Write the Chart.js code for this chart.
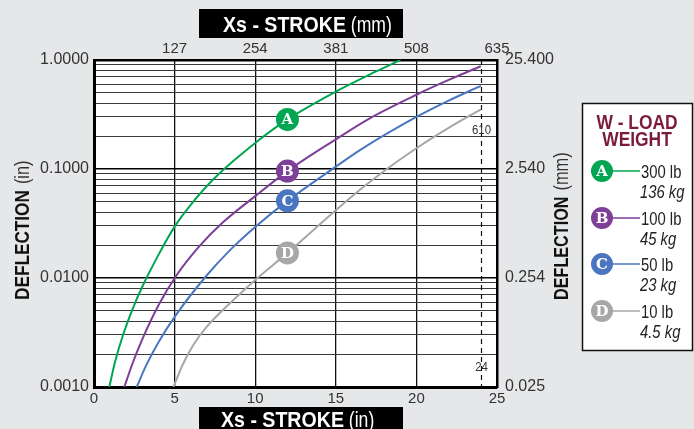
<!DOCTYPE html>
<html>
<head>
<meta charset="utf-8">
<script src="https://cdn.jsdelivr.net/npm/chart.js@4.4.1/dist/chart.umd.min.js"></script>
<style>
  html, body { margin: 0; padding: 0; background: #e6e7e9; }
  canvas { display: block; }
</style>
</head>
<body>
<canvas id="c" width="694" height="429"></canvas>
<script>
// ---------- data ----------
const seriesLetters = ['A', 'B', 'C', 'D'];
const loadLb = ['300 lb', '100 lb', '50 lb', '10 lb'];
const loadKg = ['136 kg', '45 kg', '23 kg', '4.5 kg'];
const seriesColors = ['#00a651', '#7d3f98', '#4a76c1', '#a7a7a7'];

// stroke (in) and deflection (in)
const xA = [0.95, 1.3, 1.8, 2.4, 3.0, 4.0, 5.0, 6.0, 7.5, 10, 12, 15, 17.5, 19];
const yA = [0.001, 0.00169, 0.0030, 0.00522, 0.00835, 0.0163, 0.0296, 0.0469, 0.083, 0.173, 0.285, 0.513, 0.785, 1.0];

const xB = [1.88, 2.4, 3.0, 4.0, 5.1, 6.5, 8, 10, 12, 15, 17, 20, 22, 24];
const yB = [0.001, 0.00166, 0.00275, 0.00562, 0.0105, 0.0193, 0.0324, 0.0564, 0.0957, 0.187, 0.286, 0.48, 0.656, 0.877];

const xC = [2.65, 3.2, 4.0, 5.1, 7.0, 8.5, 10, 12, 15, 16.5, 20, 22, 24];
const yC = [0.001, 0.00154, 0.00258, 0.00461, 0.0106, 0.0184, 0.0294, 0.051, 0.105, 0.149, 0.30, 0.424, 0.579];

const xD = [4.93, 5.5, 6.2, 7.0, 8.5, 10, 12, 15, 16.5, 18, 20, 22, 24];
const yD = [0.001, 0.0016, 0.00248, 0.00358, 0.0060, 0.0096, 0.017, 0.0418, 0.0644, 0.0958, 0.155, 0.2385, 0.353];

const markerX = 12;
const markerY = [0.285, 0.0957, 0.051, 0.017];

const xTicksIn = [0, 5, 10, 15, 20, 25];
const xLabelsIn = ['0', '5', '10', '15', '20', '25'];
const xTicksMm = [5, 10, 15, 20, 25];
const xLabelsMm = ['127', '254', '381', '508', '635'];

const yDecades = [0.001, 0.01, 0.1, 1];
const yLabelsIn = ['0.0010', '0.0100', '0.1000', '1.0000'];
const yLabelsMm = ['0.025', '0.254', '2.540', '25.400'];
const yMinorMult = [2, 3, 4, 5, 6, 7, 8, 9];

const limitX = 24;
const limitLabelMm = '610';
const limitLabelIn = '24';

// ---------- helpers ----------
const pts = (xs, ys) => xs.map((x, i) => ({ x: x, y: ys[i] }));
const allYTicks = [];
yDecades.forEach((d, i) => {
  allYTicks.push(d);
  if (i < yDecades.length - 1) yMinorMult.forEach(m => allYTicks.push(+(d * m).toPrecision(3)));
});
const isDecade = v => yDecades.some(d => Math.abs(d - v) < 1e-9);
const SANS = '"Liberation Sans", Arial, sans-serif';

function cText(ctx, str, x, y, font, sx, align) {
  ctx.save();
  ctx.font = font;
  const w = ctx.measureText(str).width * sx;
  let x0 = x;
  if (align === 'center') x0 = x - w / 2;
  else if (align === 'right') x0 = x - w;
  ctx.translate(x0, y);
  ctx.scale(sx, 1);
  ctx.textAlign = 'left';
  ctx.fillText(str, 0, 0);
  ctx.restore();
  return w;
}
function cWidth(ctx, str, font, sx) {
  ctx.save(); ctx.font = font; const w = ctx.measureText(str).width * sx; ctx.restore(); return w;
}

const bgPlugin = {
  id: 'bg',
  beforeDraw(chart) {
    const { ctx, chartArea: a } = chart;
    ctx.save();
    ctx.fillStyle = '#e6e7e9';
    ctx.fillRect(0, 0, chart.width, chart.height);
    ctx.fillStyle = '#ffffff';
    ctx.fillRect(a.left, a.top, a.right - a.left, a.bottom - a.top);
    ctx.restore();
  }
};

const overlayPlugin = {
  id: 'overlay',
  afterDatasetsDraw(chart) {
    const { ctx, chartArea: a } = chart;
    const xs = chart.scales.x, ys = chart.scales.y;
    ctx.save();
    const lx = Math.round(xs.getPixelForValue(limitX)) + 0.5;
    ctx.strokeStyle = '#111';
    ctx.lineWidth = 1.2;
    ctx.setLineDash([5, 4]);
    ctx.beginPath();
    ctx.moveTo(lx, a.top);
    ctx.lineTo(lx, a.bottom);
    ctx.stroke();
    ctx.setLineDash([]);
    ctx.fillStyle = '#333';
    ctx.textBaseline = 'middle';
    cText(ctx, limitLabelMm, lx, 130, '13px ' + SANS, 0.88, 'center');
    cText(ctx, limitLabelIn, lx, 367, '13px ' + SANS, 0.88, 'center');

    markerY.forEach((v, i) => {
      const px = xs.getPixelForValue(markerX);
      const py = ys.getPixelForValue(v);
      ctx.beginPath();
      ctx.arc(px, py, 11.5, 0, Math.PI * 2);
      ctx.fillStyle = seriesColors[i];
      ctx.fill();
      ctx.fillStyle = '#fff';
      ctx.font = 'bold 15px "DejaVu Serif", "Liberation Serif", serif';
      ctx.textAlign = 'center';
      ctx.textBaseline = 'middle';
      ctx.fillText(seriesLetters[i], px, py + 1);
    });
    ctx.restore();
  },
  afterDraw(chart) {
    const { ctx } = chart;
    ctx.save();
    ctx.textBaseline = 'alphabetic';
    ctx.fillStyle = '#000';
    ctx.fillRect(199, 9, 204, 29);
    ctx.fillRect(199, 407, 204, 22);
    const drawBoxTitle = (x0, by, unit) => {
      ctx.fillStyle = '#fff';
      const fb = 'bold 22px ' + SANS, fr = '22px ' + SANS;
      const w1 = cText(ctx, 'Xs - STROKE', x0, by, fb, 0.89, 'left');
      const sp = cWidth(ctx, ' ', fr, 0.8);
      cText(ctx, unit, x0 + w1 + sp, by, fr, 0.8, 'left');
    };
    drawBoxTitle(223, 32, '(mm)');
    drawBoxTitle(221, 427, '(in)');

    const drawRot = (bx, by, unit, sxb) => {
      ctx.save();
      ctx.translate(bx, by);
      ctx.rotate(-Math.PI / 2);
      ctx.fillStyle = '#111';
      const w = cText(ctx, 'DEFLECTION', 0, 0, 'bold 20px ' + SANS, sxb, 'left');
      ctx.fillStyle = '#333';
      cText(ctx, unit, w + 6, 0, '20px ' + SANS, 0.82, 'left');
      ctx.restore();
    };
    drawRot(29, 300, '(in)', 0.86);
    drawRot(568, 300, '(mm)', 0.81);

    ctx.fillStyle = '#fff';
    ctx.fillRect(582, 103, 110, 247);
    ctx.strokeStyle = '#111';
    ctx.lineWidth = 1.5;
    ctx.strokeRect(582.5, 103.5, 110, 247);
    ctx.fillStyle = '#7a1a3c';
    cText(ctx, 'W - LOAD', 637, 129, 'bold 20px ' + SANS, 0.87, 'center');
    cText(ctx, 'WEIGHT', 637, 146, 'bold 20px ' + SANS, 0.87, 'center');
    const ly = [171, 218, 264, 311];
    ly.forEach((y, i) => {
      ctx.strokeStyle = seriesColors[i];
      ctx.lineWidth = 1.5;
      ctx.beginPath();
      ctx.moveTo(612, y);
      ctx.lineTo(640, y);
      ctx.stroke();
      ctx.beginPath();
      ctx.arc(602, y, 11, 0, Math.PI * 2);
      ctx.fillStyle = seriesColors[i];
      ctx.fill();
      ctx.fillStyle = '#fff';
      ctx.font = 'bold 15px "DejaVu Serif", "Liberation Serif", serif';
      ctx.textAlign = 'center';
      ctx.textBaseline = 'middle';
      ctx.fillText(seriesLetters[i], 602, y + 1);
      ctx.textBaseline = 'alphabetic';
      ctx.fillStyle = '#222';
      cText(ctx, loadLb[i], 641, y + 7, '19px ' + SANS, 0.78, 'left');
      cText(ctx, loadKg[i], 640, y + 27, 'italic 19px ' + SANS, 0.78, 'left');
    });
    ctx.restore();
  }
};

const mkDs = (xs, ys, i) => ({
  label: loadLb[i],
  data: pts(xs, ys),
  borderColor: seriesColors[i],
  borderWidth: 2,
  pointRadius: 0,
  cubicInterpolationMode: 'monotone',
  fill: false
});

new Chart(document.getElementById('c'), {
  type: 'line',
  data: {
    datasets: [mkDs(xA, yA, 0), mkDs(xB, yB, 1), mkDs(xC, yC, 2), mkDs(xD, yD, 3)]
  },
  options: {
    responsive: false,
    devicePixelRatio: 1,
    animation: false,
    layout: { padding: 0 },
    plugins: { legend: { display: false }, tooltip: { enabled: false } },
    scales: {
      x: {
        type: 'linear', position: 'bottom', min: 0, max: 25,
        afterFit(s) { s.height = 42; },
        afterBuildTicks(s) { s.ticks = xTicksIn.map(v => ({ value: v })); },
        ticks: {
          autoSkip: false, maxRotation: 0, padding: 3,
          color: '#333', font: { family: SANS, size: 15 },
          callback: (v, i) => xLabelsIn[i]
        },
        grid: { drawTicks: false, color: '#111', lineWidth: 1.3 },
        border: { display: true, color: '#000', width: 3 }
      },
      x2: {
        type: 'linear', position: 'top', min: 0, max: 25,
        afterFit(s) { s.height = 60; },
        afterBuildTicks(s) { s.ticks = xTicksMm.map(v => ({ value: v })); },
        ticks: {
          autoSkip: false, maxRotation: 0, padding: 2,
          color: '#333', font: { family: SANS, size: 15 },
          callback: (v, i) => xLabelsMm[i]
        },
        grid: { display: false, drawTicks: false },
        border: { display: true, color: '#000', width: 2.5 }
      },
      y: {
        type: 'logarithmic', position: 'left', min: 0.001, max: 1,
        afterFit(s) { s.width = 94; },
        afterBuildTicks(s) { s.ticks = allYTicks.map(v => ({ value: v, major: isDecade(v) })); },
        ticks: {
          autoSkip: false, padding: 5,
          color: '#333', font: { family: SANS, size: 16 },
          callback: (v) => { const k = yDecades.findIndex(d => Math.abs(d - v) < 1e-9); return k >= 0 ? yLabelsIn[k] : ''; }
        },
        grid: {
          drawTicks: false,
          color: ctx => isDecade(ctx.tick.value) ? '#000' : '#3a3a3a',
          lineWidth: ctx => isDecade(ctx.tick.value) ? 1.6 : 1.1
        },
        border: { display: true, color: '#000', width: 3 }
      },
      y2: {
        type: 'logarithmic', position: 'right', min: 0.001, max: 1,
        afterFit(s) { s.width = 197; },
        afterBuildTicks(s) { s.ticks = yDecades.map(v => ({ value: v })); },
        ticks: {
          autoSkip: false, padding: 8,
          color: '#333', font: { family: SANS, size: 16 },
          callback: (v, i) => yLabelsMm[i]
        },
        grid: { display: false, drawTicks: false },
        border: { display: true, color: '#000', width: 2.5 }
      }
    }
  },
  plugins: [bgPlugin, overlayPlugin]
});
</script>
</body>
</html>
